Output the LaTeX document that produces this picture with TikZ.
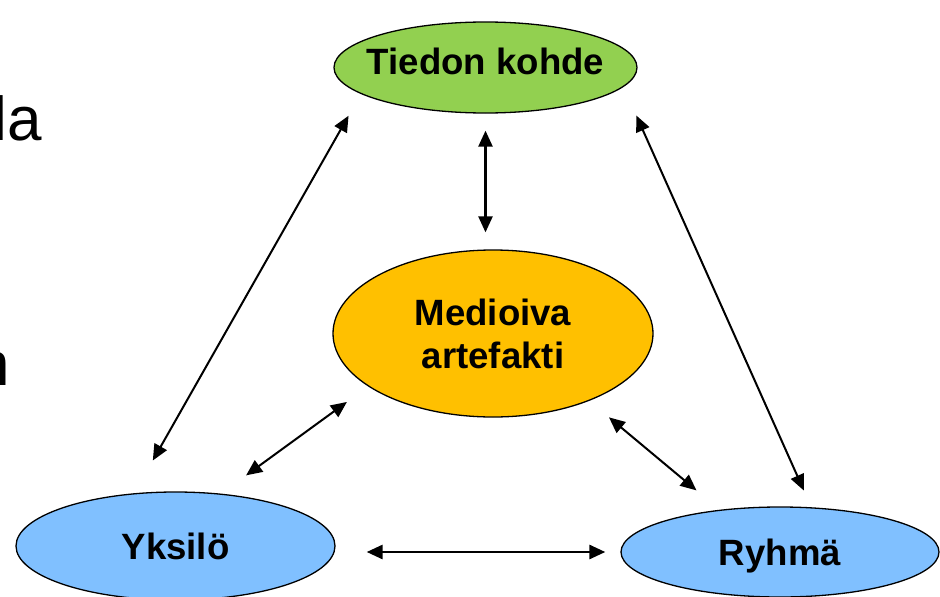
\documentclass[tikz,border=0pt]{standalone}
\usepackage{fontspec}
\setmainfont{Liberation Sans}
\usepackage{tikz}
\usetikzlibrary{ 
  	shapes.geometric,
  	arrows.meta,
  	positioning,
  	calc
  }
\definecolor{kohdegreen}{RGB}{146,208,80}
\definecolor{mediorange}{RGB}{255,192,0}
\definecolor{toimijablue}{RGB}{128,192,255}
\tikzstyle{soikio}=[ellipse,draw=black,line width=1.3pt,inner sep=0pt,text depth=0pt,align=center,font=\fontsize{36.6}{43}\selectfont\bfseries]
\tikzstyle{nuoli}=[>={Triangle[length=16pt,width=14pt]},<->,line width=2pt]
\tikzstyle{reuna}=[anchor=base west,inner sep=0pt,font=\fontsize{62}{70}\selectfont]

\begin{document}
\begin{tikzpicture}[x=1pt,y=-1pt]
\clip (0,0) rectangle (940,597);
\node[reuna] (la) at (-6.6,140) {la};
\node[reuna] (n) at (-24.4,385) {n};
\node[soikio,fill=kohdegreen,minimum width=303pt,minimum height=91pt,inner xsep=-25pt,text depth=12pt] (kohde) at (485.5,67.5) {Tiedon kohde};
\node[soikio,fill=mediorange,minimum width=320pt,minimum height=167pt] (medio) at (493,333.5) {Medioiva\\artefakti};
\node[soikio,fill=toimijablue,minimum width=319pt,minimum height=108pt] (yks) at (175.5,546) {Yksilö};
\node[soikio,fill=toimijablue,minimum width=318pt,minimum height=90pt] (ryhma) at (780,552) {Ryhmä};
\draw[nuoli,shorten <=25pt,shorten >=37.6pt] (kohde.192) -- (yks.128);
\draw[nuoli,line width=2.4pt,shorten <=17pt,shorten >=17pt] (kohde.south) -- (kohde.south |- medio.north);
\draw[nuoli,shorten <=31.3pt,shorten >=18.3pt] (kohde.-8) -- (ryhma.55);
\draw[nuoli,shorten <=31pt,shorten >=26.3pt] (yks.49) -- (medio.203);
\draw[nuoli,shorten <=25.7pt,shorten >=30.2pt] (medio.-35) -- (ryhma.145);
\draw[nuoli,line width=2.8pt,shorten <=31pt,shorten >=15pt] (yks.east |- ryhma.west) -- (ryhma.west);
\end{tikzpicture}
\end{document}
